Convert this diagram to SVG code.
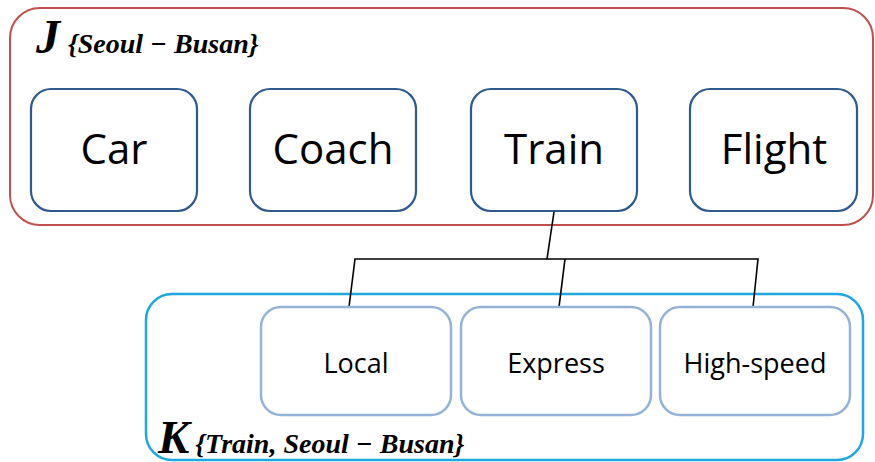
<svg xmlns="http://www.w3.org/2000/svg" width="875" height="462" viewBox="0 0 875 462">
<style>
.grp-j{fill:none;stroke:#C0504D;stroke-width:2}
.grp-k{fill:none;stroke:#1FA7E0;stroke-width:2.5}
.top{fill:#fff;stroke:#2F5A8E;stroke-width:2.2}
.sub{fill:#fff;stroke:#95B3D7;stroke-width:2.5}
.big{font-family:"Open Sans","Noto Sans",sans-serif;font-size:42px;fill:#000;text-anchor:middle}
.small{font-family:"Open Sans","Noto Sans",sans-serif;font-size:27px;fill:#000;text-anchor:middle}
.ttl{font-family:"Liberation Serif","Times New Roman",serif;font-style:italic;font-weight:bold;fill:#000}
.conn{fill:none;stroke:#000;stroke-width:1.6}
</style>
<rect width="875" height="462" fill="#fff"/>
<g id="group-J">
  <rect class="grp-j" x="10" y="8" width="863" height="217" rx="30"/>
  <text class="ttl" x="36" y="53"><tspan font-size="48">J</tspan><tspan dx="8" font-size="28">{Seoul − Busan}</tspan></text>
</g>
<g id="group-K">
  <rect class="grp-k" x="146" y="294" width="717" height="166" rx="26"/>
  <text class="ttl" x="158" y="453"><tspan font-size="47">K</tspan><tspan dx="6" font-size="28">{Train, Seoul − Busan}</tspan></text>
</g>
<g id="connectors">
  <polyline class="conn" points="554,212 547,259"/>
  <polyline class="conn" points="349,307 355,259 758,259 753,307"/>
  <polyline class="conn" points="565,259 559,307"/>
</g>
<g id="node-car"><rect class="top" x="31" y="89" width="166" height="122" rx="20"/><text class="big" x="114" y="164">Car</text></g>
<g id="node-coach"><rect class="top" x="250" y="89" width="166" height="122" rx="20"/><text class="big" x="333" y="164">Coach</text></g>
<g id="node-train"><rect class="top" x="471" y="89" width="166" height="122" rx="20"/><text class="big" x="554" y="164">Train</text></g>
<g id="node-flight"><rect class="top" x="690" y="89" width="167" height="122" rx="20"/><text class="big" x="774" y="164">Flight</text></g>
<g id="node-local"><rect class="sub" x="261" y="307" width="190" height="108" rx="20"/><text class="small" x="356" y="373">Local</text></g>
<g id="node-express"><rect class="sub" x="461" y="307" width="190" height="108" rx="20"/><text class="small" x="556" y="373">Express</text></g>
<g id="node-highspeed"><rect class="sub" x="660" y="307" width="190" height="108" rx="20"/><text class="small" x="755" y="373">High-speed</text></g>
</svg>
